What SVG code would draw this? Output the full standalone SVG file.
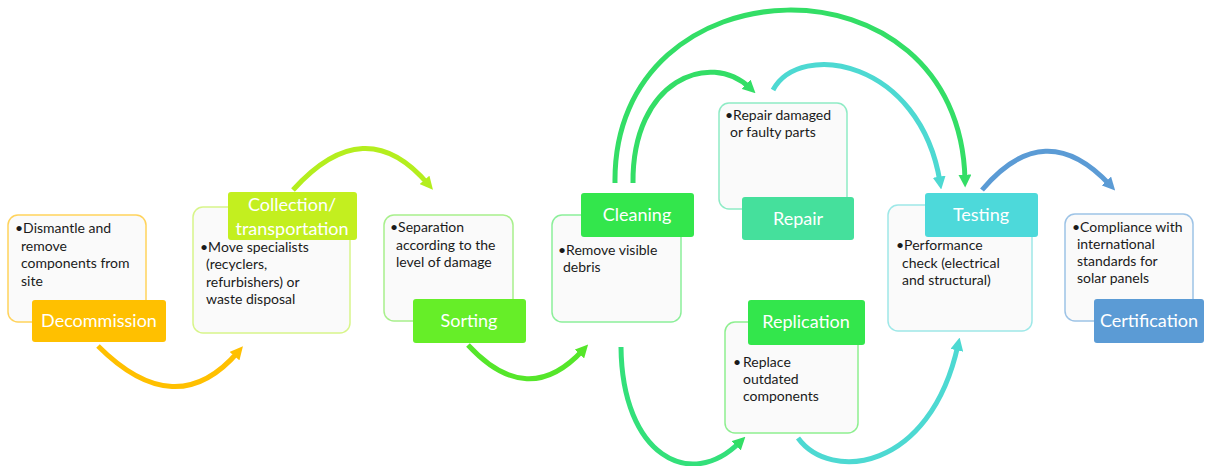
<svg xmlns="http://www.w3.org/2000/svg" width="1205" height="466" viewBox="0 0 1205 466">
<style>
.box{fill:#fafafa;stroke-width:1.5}
.lbl{stroke:none}
.lt{font-family:Lato,"Open Sans","Liberation Sans",sans-serif;font-size:18px;fill:#ffffff;text-anchor:middle}
.bt{font-family:Lato,"Open Sans","Liberation Sans",sans-serif;font-size:14px;fill:#1a1a1a}
.c{fill:none;stroke-width:5}
</style>
<defs>
<marker id="mO" viewBox="0 0 12 12" markerWidth="13" markerHeight="13" refX="5" refY="6" orient="auto" markerUnits="userSpaceOnUse"><path d="M0,0 L12,6 L0,12 z" fill="#ffc000"/></marker>
<marker id="mY" viewBox="0 0 12 12" markerWidth="13" markerHeight="13" refX="5" refY="6" orient="auto" markerUnits="userSpaceOnUse"><path d="M0,0 L12,6 L0,12 z" fill="#b4ee1e"/></marker>
<marker id="mG1" viewBox="0 0 12 12" markerWidth="13" markerHeight="13" refX="5" refY="6" orient="auto" markerUnits="userSpaceOnUse"><path d="M0,0 L12,6 L0,12 z" fill="#55e62a"/></marker>
<marker id="mG2" viewBox="0 0 12 12" markerWidth="13" markerHeight="13" refX="5" refY="6" orient="auto" markerUnits="userSpaceOnUse"><path d="M0,0 L12,6 L0,12 z" fill="#33de66"/></marker>
<marker id="mT" viewBox="0 0 12 12" markerWidth="13" markerHeight="13" refX="5" refY="6" orient="auto" markerUnits="userSpaceOnUse"><path d="M0,0 L12,6 L0,12 z" fill="#4dd9d2"/></marker>
<marker id="mB" viewBox="0 0 12 12" markerWidth="13" markerHeight="13" refX="5" refY="6" orient="auto" markerUnits="userSpaceOnUse"><path d="M0,0 L12,6 L0,12 z" fill="#5b9bd5"/></marker>
</defs>
<rect width="1205" height="466" fill="#ffffff"/>
<g id="connectors">
<path class="c" stroke="#ffc000" marker-end="url(#mO)" d="M98,346 Q176,424 238,352"/>
<path class="c" stroke="#b4ee1e" marker-end="url(#mY)" d="M293,190 Q365,110 428,184"/>
<path class="c" stroke="#55e62a" marker-end="url(#mG1)" d="M468,345 Q528,410 583,350"/>
<path class="c" stroke="#33de66" marker-end="url(#mG2)" d="M633,183 C632,80 710,50 750,88"/>
<path class="c" stroke="#33de66" marker-end="url(#mG2)" d="M615,183 C612,-42 960,-52 965,180"/>
<path class="c" stroke="#4dd9d2" marker-end="url(#mT)" d="M773,90 C800,40 920,60 940,182"/>
<path class="c" stroke="#33e07a" marker-end="url(#mG2)" d="M621,347 C622,455 690,492 740,442"/>
<path class="c" stroke="#4dd9d2" marker-end="url(#mT)" d="M798,438 C830,482 930,472 958,345"/>
<path class="c" stroke="#5b9bd5" marker-end="url(#mB)" d="M982,190 Q1045,115 1110,185"/>
</g>
<g id="decommission">
<rect class="box" x="8" y="215" width="138" height="107" rx="10" stroke="#ffd35c"/>
<text class="bt" x="15" y="233">•Dismantle and</text>
<text class="bt" x="21" y="251">remove</text>
<text class="bt" x="21" y="268">components from</text>
<text class="bt" x="21" y="286">site</text>
<rect class="lbl" x="32" y="300" width="134" height="42" rx="3" fill="#ffc000"/>
<text class="lt" x="99" y="327">Decommission</text>
</g>
<g id="collection">
<rect class="box" x="193" y="207" width="157" height="126" rx="10" stroke="#d8f58a"/>
<text class="bt" x="200" y="252">•Move specialists</text>
<text class="bt" x="206" y="269">(recyclers,</text>
<text class="bt" x="206" y="287">refurbishers) or</text>
<text class="bt" x="206" y="304">waste disposal</text>
<rect class="lbl" x="228" y="192" width="129" height="48" rx="3" fill="#c3ef1f"/>
<text class="lt" x="292" y="211">Collection/</text>
<text class="lt" x="292" y="235">transportation</text>
</g>
<g id="sorting">
<rect class="box" x="384" y="215" width="129" height="106" rx="10" stroke="#a8f08c"/>
<text class="bt" x="390" y="232">•Separation</text>
<text class="bt" x="396" y="250">according to the</text>
<text class="bt" x="396" y="267">level of damage</text>
<rect class="lbl" x="413" y="299" width="113" height="44" rx="3" fill="#66ee28"/>
<text class="lt" x="469" y="327">Sorting</text>
</g>
<g id="cleaning">
<rect class="box" x="552" y="215" width="129" height="107" rx="10" stroke="#8cef9a"/>
<text class="bt" x="558" y="255">•Remove visible</text>
<text class="bt" x="563" y="272">debris</text>
<rect class="lbl" x="581" y="193" width="113" height="44" rx="3" fill="#33e64c"/>
<text class="lt" x="637" y="221">Cleaning</text>
</g>
<g id="repair">
<rect class="box" x="719" y="103" width="128" height="106" rx="10" stroke="#8eebc5"/>
<text class="bt" x="725" y="120">•Repair damaged</text>
<text class="bt" x="730" y="137">or faulty parts</text>
<rect class="lbl" x="742" y="197" width="112" height="43" rx="3" fill="#45e09c"/>
<text class="lt" x="798" y="225">Repair</text>
</g>
<g id="replication">
<rect class="box" x="725" y="322" width="133" height="111" rx="10" stroke="#8eef90"/>
<text class="bt" x="733" y="367">•</text>
<text class="bt" x="743" y="367">Replace</text>
<text class="bt" x="743" y="384">outdated</text>
<text class="bt" x="743" y="401">components</text>
<rect class="lbl" x="748" y="300" width="117" height="45" rx="3" fill="#33e64c"/>
<text class="lt" x="806" y="328">Replication</text>
</g>
<g id="testing">
<rect class="box" x="888" y="205" width="144" height="126" rx="10" stroke="#9ee8e8"/>
<text class="bt" x="896" y="250">•Performance</text>
<text class="bt" x="902" y="268">check (electrical</text>
<text class="bt" x="902" y="285">and structural)</text>
<rect class="lbl" x="925" y="193" width="113" height="44" rx="3" fill="#4dd9da"/>
<text class="lt" x="981" y="221">Testing</text>
</g>
<g id="certification">
<rect class="box" x="1065" y="214" width="128" height="107" rx="10" stroke="#9dc3e6"/>
<text class="bt" x="1072" y="232">•Compliance with</text>
<text class="bt" x="1077" y="249">international</text>
<text class="bt" x="1077" y="266">standards for</text>
<text class="bt" x="1077" y="283">solar panels</text>
<rect class="lbl" x="1094" y="299" width="110" height="44" rx="3" fill="#5b9bd5"/>
<text class="lt" x="1149" y="327">Certification</text>
</g>
</svg>
